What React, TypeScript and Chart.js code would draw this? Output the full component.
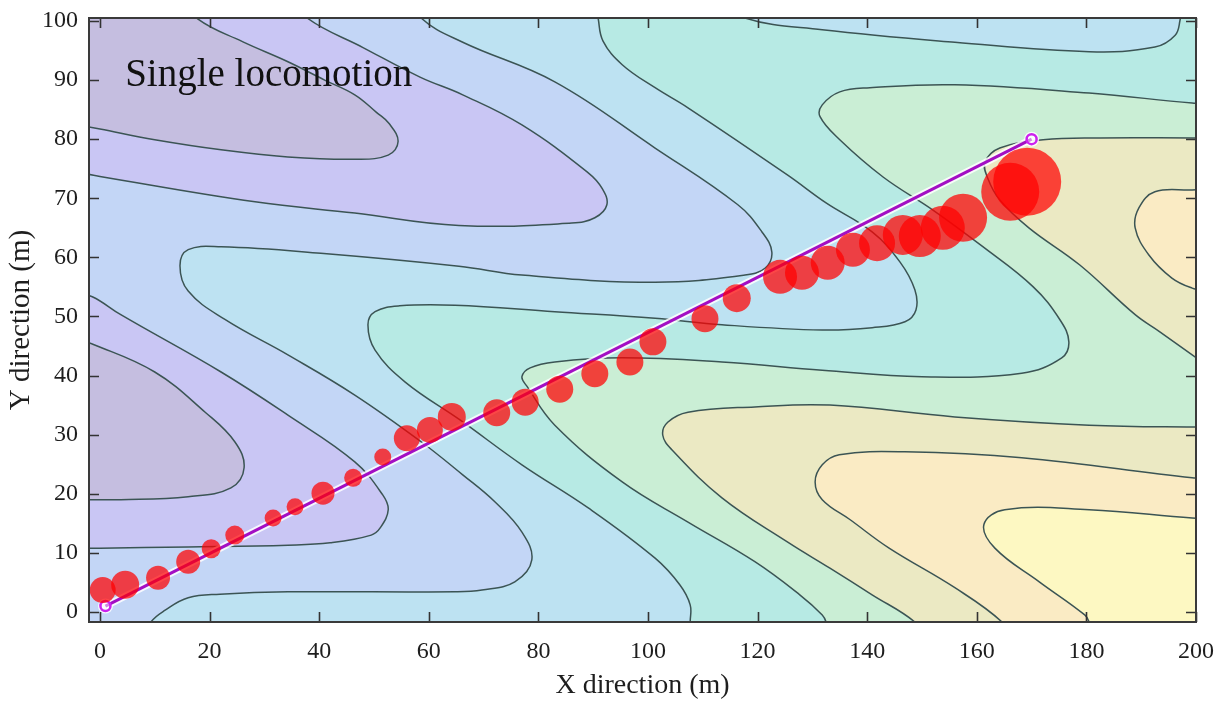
import React, { useEffect, useRef } from "react";
import { Chart, registerables } from "chart.js";

Chart.register(...registerables);

type P = [number, number];

// ---------- axes ----------
const X_MIN = -2;
const X_MAX = 200;
const X_STEP = 20;
const Y_MIN = -1.7;
const Y_MAX = 100.5;
const Y_STEP = 10;
const X_TITLE = "X direction (m)";
const Y_TITLE = "Y direction (m)";
const NOTE_TEXT = "Single locomotion";
const NOTE_POS: P = [4.6, 89];

// ---------- trajectory ----------
const PATH_X = [1, 170];
const PATH_Y = [1, 80];

// ---------- bubbles ----------
const BUBBLE_X = [0.5, 4.6, 10.6, 16.1, 20.3, 24.6, 31.6, 35.6, 40.7, 46.2, 51.6, 56.0, 60.2, 64.2, 72.4, 77.6, 83.9, 90.3, 96.7, 100.9, 110.4, 116.2, 124.1, 128.1, 132.8, 137.4, 141.8, 146.5, 149.6, 153.8, 157.5, 166.1, 169.2];
const BUBBLE_Y = [3.7, 4.6, 5.8, 8.5, 10.7, 13.0, 15.9, 17.8, 20.1, 22.7, 26.2, 29.4, 30.8, 33.0, 33.7, 35.5, 37.7, 40.3, 42.3, 45.7, 49.6, 53.1, 56.7, 57.4, 59.1, 61.3, 62.4, 63.8, 63.6, 65.0, 66.7, 71.1, 72.8];
const BUBBLE_R = [13, 14, 12, 12, 9.5, 9.5, 8.5, 8.5, 11.5, 9, 8.5, 13, 13, 14, 13.5, 13.5, 13.5, 13.5, 13.5, 13.5, 13.5, 14, 17, 17, 17, 17, 18, 20, 21, 22, 24, 29, 34];

// ---------- contour lines ----------
const C1_TOP: P[] = [[16.5, 103], [17.9, 100.3], [26, 96.5], [34.3, 93.1], [41, 90], [46.5, 87.5], [50.5, 84.5], [52.8, 82.6], [54.4, 79.6], [52.6, 77.3], [46.5, 76.6], [34.3, 77], [22.1, 78.2], [10, 79.9], [0, 81.7], [-4, 82.4]];
const C1_MID: P[] = [[-4, 46], [-1.3, 45.3], [10, 40.6], [19.2, 33.8], [24.6, 28.8], [26.3, 24.4], [23.9, 21], [16.1, 19.5], [3.8, 19], [-4, 19]];
const C2_TOP: P[] = [[37, 103], [37.8, 100.5], [48, 95.5], [58.4, 90.5], [66.2, 87.5], [77, 82.4], [89.1, 74.3], [91.6, 71.7], [92.5, 68.9], [90.3, 66.7], [86.1, 65.8], [65.5, 65.4], [46.5, 67.5], [28.3, 69.4], [0, 73.7], [-4, 74.4]];
const C2_MID: P[] = [[-4, 53.8], [-1.3, 53.3], [3.8, 50.3], [22.1, 40.6], [34.3, 33.3], [46.5, 25.4], [51.6, 19.8], [52.6, 17.3], [51.2, 14.3], [49.5, 13.0], [42, 11.7], [34.3, 11.3], [16.1, 11], [0, 10.8], [-4, 10.8]];
const C3: P[] = [[58.5, 103], [58.6, 100.5], [66.2, 96.4], [83, 89.7], [101.3, 78.5], [116.4, 68.9], [120.8, 64.3], [122.6, 60.9], [121.4, 58.2], [117.7, 57], [101.3, 55.8], [77, 57], [65.5, 58.5], [40.3, 60.7], [22.1, 61.8], [16.1, 61.3], [14.6, 58.6], [16.1, 54.3], [22.8, 49.5], [34.3, 43.5], [46.5, 36.7], [58.6, 28.8], [66.2, 23.2], [72.1, 18.6], [77, 13.5], [78.8, 8.8], [75.7, 5.1], [69.7, 3.7], [64.8, 3.4], [34.3, 3.4], [21.9, 3], [16.1, 2.4], [11.9, 0.3], [9.3, -1.7], [8.5, -4]];
const C4: P[] = [[90.5, 103], [90.9, 100.5], [91.8, 96.6], [95.3, 92.6], [101.3, 88.7], [107.3, 85.3], [125.5, 73.9], [132.5, 69.2], [140.9, 64.3], [146, 59.2], [148.7, 54.5], [148.9, 51.1], [146.9, 49.1], [140.9, 48.1], [131.8, 47.7], [113.5, 48.6], [101.3, 49.7], [83, 50.8], [64.8, 51.9], [54.7, 51.8], [50.2, 50.8], [48.9, 48.6], [50.2, 44.3], [55.7, 38.9], [65.7, 32.5], [77, 24.9], [89.1, 17.6], [101.3, 9.1], [105.8, 4.6], [107.7, 1.2], [107.7, -1.7], [107.7, -4]];
const C4_TOP: P[] = [[116.5, 103], [117.7, 100.5], [131.8, 98.5], [156, 96.4], [180.5, 94.8], [192.5, 95.6], [196.2, 97.6], [197.1, 100.2], [197.5, 103]];
const C5: P[] = [[203, 86], [199.3, 86.1], [180.5, 87.8], [156, 89.2], [140.5, 88.7], [135, 88], [131.8, 85.8], [131.4, 83.8], [135, 79.9], [142.9, 73.6], [152, 68], [161.1, 61.8], [170.3, 55], [175.2, 49.4], [176.8, 45.7], [175.5, 43], [168.2, 40.4], [150, 39.8], [131.8, 40.9], [113.5, 42.3], [95.3, 43], [83, 42.3], [78.5, 41.3], [77, 39.8], [77.9, 38.2], [83, 31.6], [95.3, 22], [107.3, 15.2], [119.5, 8.5], [127.7, 2.9], [131.8, -0.5], [132.5, -1.7], [133, -4]];
const C6_TOP: P[] = [[203, 80.2], [199.3, 80.2], [182.5, 80.2], [172.1, 79.9], [164.2, 78.5], [161.5, 76.1], [162, 73.4], [164.2, 69.7], [169.5, 65], [178.8, 58.7], [188.9, 50.3], [193.4, 47.4], [199.3, 43.5], [203, 41]];
const C6_LOW: P[] = [[203, 31.4], [199.3, 31.3], [180.5, 31.6], [156, 33], [133.2, 35], [119.5, 34.7], [107.3, 33.8], [103.6, 32.1], [102.7, 29.9], [104.4, 27.4], [113.5, 19.3], [125.5, 11.8], [133.2, 7.4], [140.9, 2.9], [148.7, -1.7], [150, -4]];
const C7_TOP: P[] = [[203, 71.5], [199.3, 71.4], [192.5, 71.1], [189.6, 68.4], [188.9, 65], [191.4, 60.4], [195.6, 56.5], [199.3, 54.8], [203, 54]];
const C7_LOW: P[] = [[203, 22.6], [199.3, 22.7], [168.2, 26.1], [146.9, 27.1], [134.9, 26.6], [131.8, 24.9], [130.5, 22], [131.8, 19], [136.9, 15.6], [144, 10.8], [156, 4.1], [164.6, -1.7], [165.5, -4]];
const C8: P[] = [[203, 15.8], [199.3, 15.9], [180.5, 17.3], [165.1, 17.3], [161.3, 14.8], [163.3, 10.8], [171.4, 5.1], [179.7, -0.5], [180.5, -1.7], [181, -4]];

const CONTOURS: P[][] = [C1_TOP, C1_MID, C2_TOP, C2_MID, C3, C4, C4_TOP, C5, C6_TOP, C6_LOW, C7_TOP, C7_LOW, C8];

// ---------- band colours (low -> high) ----------
const BAND_COLORS = ["#c5bee0", "#c9c6f4", "#c3d6f6", "#bde2f2", "#b7eae4", "#caeed5", "#ebe9c3", "#faebc4", "#fdf8c2"];

// filled level regions: a contour closed by points outside the plot area
const LAYERS: { pts: P[]; band: number }[] = [
  { pts: [...C3, [-6, -6], [-6, 106], [58, 106]], band: 2 },
  { pts: [...C2_TOP, [-6, 74.5], [-6, 106], [37, 106]], band: 1 },
  { pts: [...C2_MID, [-6, 10.8], [-6, 53.8]], band: 1 },
  { pts: [...C1_TOP, [-6, 82.4], [-6, 106], [16.5, 106]], band: 0 },
  { pts: [...C1_MID, [-6, 19], [-6, 46]], band: 0 },
  { pts: [...C4, [108, -6], [206, -6], [206, 106], [198, 106], ...[...C4_TOP].reverse(), [116, 106], [90, 106]], band: 4 },
  { pts: [...C5, [133, -6], [206, -6], [206, 86]], band: 5 },
  { pts: [...C6_TOP, [206, 41], [206, 80.2]], band: 6 },
  { pts: [...C6_LOW, [150, -6], [206, -6], [206, 31.4]], band: 6 },
  { pts: [...C7_TOP, [206, 54], [206, 71.5]], band: 7 },
  { pts: [...C7_LOW, [166, -6], [206, -6], [206, 22.6]], band: 7 },
  { pts: [...C8, [181, -6], [206, -6], [206, 15.8]], band: 8 },
];

const FONT = '"Liberation Serif", "Times New Roman", serif';
const TEXT_COLOR = "#1e1e1e";
const toXY = (pts: P[]) => pts.map(([x, y]) => ({ x, y }));

const backgroundPlugin = {
  id: "bandBase",
  beforeDatasetsDraw(chart: any) {
    const { ctx, chartArea: a } = chart;
    ctx.save();
    ctx.fillStyle = BAND_COLORS[3];
    ctx.fillRect(a.left, a.top, a.right - a.left, a.bottom - a.top);
    ctx.restore();
  },
};

const framePlugin = {
  id: "frameTicks",
  afterDatasetsDraw(chart: any) {
    const { ctx, chartArea: a, scales } = chart;
    const xs = scales.x;
    const ys = scales.y;
    ctx.save();
    // annotation
    ctx.fillStyle = "#111";
    ctx.font = `39px ${FONT}`;
    ctx.textBaseline = "alphabetic";
    ctx.textAlign = "left";
    ctx.fillText(NOTE_TEXT, xs.getPixelForValue(NOTE_POS[0]), ys.getPixelForValue(NOTE_POS[1]));
    // inward ticks on all four sides
    ctx.strokeStyle = "#333";
    ctx.lineWidth = 1.6;
    const len = 10;
    ctx.beginPath();
    for (const t of xs.ticks) {
      const px = Math.round(xs.getPixelForValue(t.value)) + 0.5;
      ctx.moveTo(px, a.bottom);
      ctx.lineTo(px, a.bottom - len);
      ctx.moveTo(px, a.top);
      ctx.lineTo(px, a.top + len);
    }
    for (const t of ys.ticks) {
      const py = Math.round(ys.getPixelForValue(t.value)) + 0.5;
      ctx.moveTo(a.left, py);
      ctx.lineTo(a.left + len, py);
      ctx.moveTo(a.right, py);
      ctx.lineTo(a.right - len, py);
    }
    ctx.stroke();
    // frame
    ctx.lineWidth = 2;
    ctx.strokeStyle = "#3a3a3a";
    ctx.strokeRect(a.left, a.top, a.right - a.left, a.bottom - a.top);
    ctx.restore();
  },
};

export default function App() {
  const ref = useRef<HTMLCanvasElement>(null);

  useEffect(() => {
    const canvas = ref.current;
    if (!canvas) return;

    const datasets: any[] = [];
    const nLayers = LAYERS.length;
    LAYERS.forEach((layer, i) => {
      datasets.push({
        type: "line",
        data: toXY(layer.pts),
        fill: "shape",
        backgroundColor: BAND_COLORS[layer.band],
        borderColor: "rgba(0,0,0,0)",
        borderWidth: 0,
        pointRadius: 0,
        pointHitRadius: 0,
        tension: 0.4,
        order: 100 + (nLayers - i),
      });
    });
    CONTOURS.forEach((c) => {
      datasets.push({
        type: "line",
        data: toXY(c),
        fill: false,
        borderColor: "#3b5454",
        borderWidth: 1.5,
        pointRadius: 0,
        pointHitRadius: 0,
        tension: 0.4,
        order: 10,
      });
    });
    const path = PATH_X.map((x, i) => ({ x, y: PATH_Y[i] }));
    datasets.push({
      type: "line",
      data: path,
      fill: false,
      borderColor: "rgba(255,255,255,0.85)",
      borderWidth: 7,
      pointRadius: 7.5,
      pointBackgroundColor: "rgba(255,255,255,0.85)",
      pointBorderWidth: 0,
      tension: 0,
      order: 4,
    });
    datasets.push({
      type: "line",
      data: path,
      fill: false,
      borderColor: "#a30fc4",
      borderWidth: 3,
      pointRadius: 5,
      pointBorderColor: "#cc22ee",
      pointBorderWidth: 2.5,
      pointBackgroundColor: "rgba(255,255,255,0.5)",
      tension: 0,
      order: 3,
    });
    datasets.push({
      type: "bubble",
      data: BUBBLE_X.map((x, i) => ({ x, y: BUBBLE_Y[i], r: BUBBLE_R[i] })),
      backgroundColor: "rgba(255,0,0,0.72)",
      borderWidth: 0,
      hoverRadius: 0,
      order: 1,
    });

    const chart = new Chart(canvas, {
      type: "scatter",
      data: { datasets },
      options: {
        responsive: false,
        animation: false,
        events: [],
        layout: { autoPadding: false, padding: { left: 0, top: 18, right: 24, bottom: 0 } },
        elements: { line: { capBezierPoints: false } },
        plugins: {
          legend: { display: false },
          tooltip: { enabled: false },
        },
        scales: {
          x: {
            type: "linear",
            min: X_MIN,
            max: X_MAX,
            grid: { display: false, drawTicks: false },
            border: { display: false },
            ticks: {
              stepSize: X_STEP,
              includeBounds: false,
              maxRotation: 0,
              autoSkip: false,
              padding: 15,
              color: TEXT_COLOR,
              font: { family: FONT, size: 24 },
            },
            title: {
              display: true,
              text: X_TITLE,
              color: TEXT_COLOR,
              font: { family: FONT, size: 28 },
              padding: { top: 0, bottom: 0 },
            },
            afterFit: (s: any) => {
              s.height = 80;
              s.paddingLeft = 0;
              s.paddingRight = 0;
              s.paddingTop = 0;
              s.paddingBottom = 0;
            },
          },
          y: {
            type: "linear",
            min: Y_MIN,
            max: Y_MAX,
            grid: { display: false, drawTicks: false },
            border: { display: false },
            ticks: {
              stepSize: Y_STEP,
              includeBounds: false,
              autoSkip: false,
              padding: 11,
              color: TEXT_COLOR,
              font: { family: FONT, size: 24 },
            },
            title: {
              display: true,
              text: Y_TITLE,
              color: TEXT_COLOR,
              font: { family: FONT, size: 29 },
              padding: { top: 4, bottom: 0 },
            },
            afterFit: (s: any) => {
              s.width = 89;
              s.paddingLeft = 0;
              s.paddingRight = 0;
              s.paddingTop = 0;
              s.paddingBottom = 0;
            },
          },
        },
      } as any,
      plugins: [backgroundPlugin, framePlugin],
    });

    return () => chart.destroy();
  }, []);

  return (
    <div style={{ position: "fixed", left: 0, top: 0, width: 1220, height: 702, background: "#ffffff" }}>
      <canvas ref={ref} width={1220} height={702} style={{ display: "block", width: 1220, height: 702 }} />
    </div>
  );
}
